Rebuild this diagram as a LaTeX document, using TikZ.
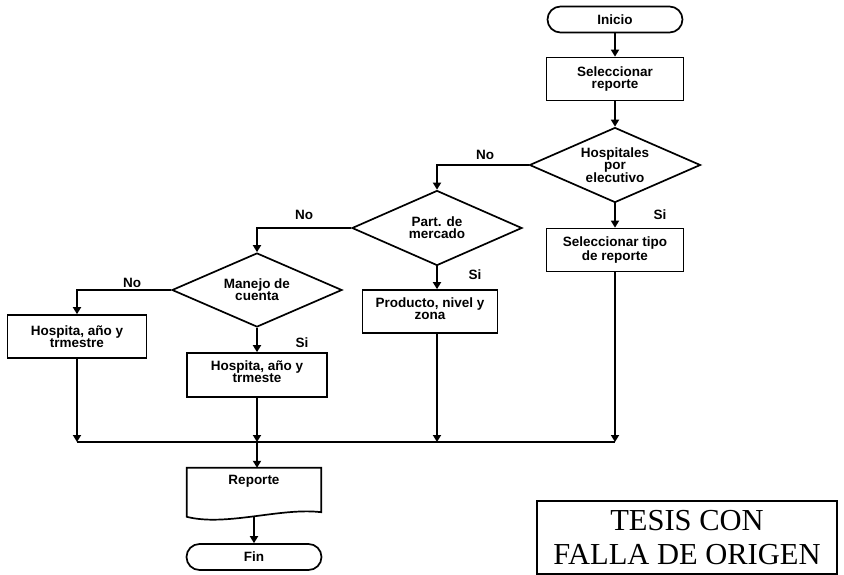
\documentclass[tikz,border=0pt]{standalone}
\usepackage{fontspec}
\setmainfont{Liberation Sans}
\newfontfamily\stampfont{Liberation Serif}
\usetikzlibrary{arrows.meta,positioning,shapes.geometric}
\newcommand{\flowfont}{\fontsize{13.5}{12}\selectfont\bfseries}
\tikzset{
    myterm/.style={draw=black,line width=1.7pt,rounded corners=13pt,minimum width=135pt,minimum height=26pt,inner sep=0pt,font=\flowfont},
    mybox/.style={draw=black,line width=1.7pt,minimum width=137pt,minimum height=43pt,inner sep=0pt,align=center,font=\flowfont},
    mydec/.style={diamond,draw=black,line width=1.7pt,aspect=2.3,inner sep=0pt,minimum width=170pt,minimum height=75pt,align=center,font=\flowfont},
    myedge/.style={line width=1.7pt,draw=black,-{Triangle[length=7pt,width=8pt]}},
    myline/.style={line width=1.7pt,draw=black},
    mylabel/.style={font=\flowfont},
    stampbox/.style={draw=black,line width=1.5pt,minimum width=300pt,minimum height=73pt,inner sep=0pt,align=center,font=\stampfont\fontsize{30.5}{34}\selectfont}
}

\begin{document}
\begin{tikzpicture}[x=1pt,y=-1pt]
  \useasboundingbox (0,0) rectangle (844,574);

  % columna de la derecha
  \node[myterm] (inicio) at (615,19.5) {Inicio};
  \node[mybox] (selrep) at (615,79) {Seleccionar\\reporte};
  \node[mydec,minimum width=171pt] (hosp) at (615,165) {Hospitales\\por\\elecutivo};
  \node[mybox] (seltipo) at (615,250) {Seleccionar tipo\\de reporte};

  % segunda columna
  \node[mydec] (part) at (437,228) {Part. de\\mercado};
  \node[mybox,minimum width=135pt,text depth=6pt] (prod) at (430,311.5) {Producto, nivel y\\zona};

  % tercera columna
  \node[mydec,minimum height=74pt] (manejo) at (257,290) {Manejo de\\cuenta};
  \node[mybox,minimum width=140pt,minimum height=44pt,text depth=6pt] (hosp2) at (257,375) {Hospita, año y\\trmeste};

  % primera columna
  \node[mybox,minimum width=139pt] (hosp1) at (77,336.5) {Hospita, año y\\trmestre};

  % salida
  \coordinate (busL) at (77,442);
  \coordinate (busR) at (615,442);
  \node[minimum width=134pt,minimum height=44pt,inner sep=0pt,font=\flowfont,
        text height=9.5pt,text depth=20.5pt] (reporte) at (254,490) {Reporte};
  \draw[myline] (reporte.north west) -- ++(0,49)
    .. controls +(39,10) and +(-40,-5) .. (reporte.south east)
    -- (reporte.north east) -- cycle;
  \node[myterm] (fin) at (254,557) {Fin};

  % flujo principal
  \draw[myedge] (inicio) -- (selrep);
  \draw[myedge] (selrep) -- (hosp);
  \draw[myedge] (hosp) -- (seltipo);
  \draw[myedge] (hosp.west) -| (part.north);
  \draw[myedge] (part.south) -- (part.south |- prod.north);
  \draw[myedge] (part.west) -| (manejo.north);
  \draw[myedge] (manejo.south) -- (hosp2.north);
  \draw[myedge] (manejo.west) -| (hosp1.north);

  % hacia la linea comun
  \draw[myline] (busL) -- (busR);
  \draw[myedge] (hosp1.south) -- (hosp1.south |- busL);
  \draw[myedge] (hosp2.south) -- (hosp2.south |- busL);
  \draw[myedge] (part.south |- prod.south) -- (part.south |- busL);
  \draw[myedge] (seltipo.south) -- (busR);
  \draw[myedge] (hosp2.south |- busL) -- (hosp2.south |- reporte.north);
  \draw[myedge] ([yshift=-4pt]reporte.south) -- (fin.north);

  % etiquetas
  \node[mylabel] at (485,155) {No};
  \node[mylabel] at (660,215) {Si};
  \node[mylabel] at (304,215) {No};
  \node[mylabel] at (475,275) {Si};
  \node[mylabel] at (132,283) {No};
  \node[mylabel] at (302,343) {Si};

  % sello
  \node[stampbox] (tesis) at (687,537.5) {TESIS CON\\FALLA DE ORIGEN};

\end{tikzpicture}
\end{document}
